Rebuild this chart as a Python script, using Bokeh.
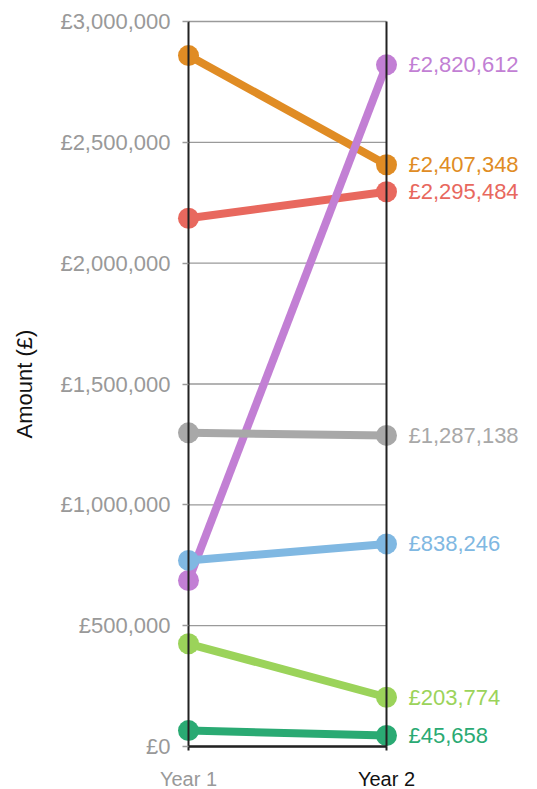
from bokeh.plotting import figure
from bokeh.models import Range1d, LinearAxis, FixedTicker, ColumnDataSource, LabelSet
from bokeh.core.properties import value
from bokeh.embed import file_html
from bokeh.resources import INLINE

# ---- data ----
years = ["Year 1", "Year 2"]
series_colors = ["#E08C24", "#E8685E", "#C27FD4", "#A8A8A8", "#80B8E2", "#9BD35A", "#2AAA73"]
year1_values = [2859000, 2186000, 687000, 1298000, 770000, 425000, 66000]
year2_values = [2407348, 2295484, 2820612, 1287138, 838246, 203774, 45658]
y_ticks = [0, 500000, 1000000, 1500000, 2000000, 2500000, 3000000]
y_tick_labels = ["£0", "£500,000", "£1,000,000", "£1,500,000", "£2,000,000", "£2,500,000", "£3,000,000"]
y_title = "Amount (£)"

# ---- layout ----
W, H = 536, 789
X0, X1 = 188, 386      # pixel x of Year 1 / Year 2 inside the figure
YT, YB = 21, 746       # pixel y of top tick / zero
y_max = y_ticks[-1]
ppx = X1 - X0
ppy = (YB - YT) / y_max
xr = Range1d(-X0 / ppx, (W - X0) / ppx)
yr = Range1d(-(H - YB) / ppy, y_max + YT / ppy)

FONT = "Liberation Sans"
GRAY = "#999999"

p = figure(width=W, height=H, x_range=xr, y_range=yr, output_backend="svg",
           toolbar_location=None, x_axis_location=None, y_axis_location=None,
           min_border=0, outline_line_color=None)
p.grid.visible = False

# grid lines between the two year axes
p.segment(x0=[0] * len(y_ticks), y0=y_ticks, x1=[1] * len(y_ticks), y1=y_ticks,
          line_color="#9a9a9a", line_width=1.3)

# left value axis
yax = LinearAxis(fixed_location=0, ticker=FixedTicker(ticks=y_ticks), bounds=(0, y_max),
                 major_label_overrides=dict(zip(y_ticks, y_tick_labels)),
                 axis_line_color="#222222", axis_line_width=2,
                 major_tick_line_color="#9a9a9a", major_tick_line_width=1.3,
                 major_tick_out=6, major_tick_in=0, minor_tick_out=0, minor_tick_in=0,
                 major_label_text_font=FONT, major_label_text_font_size="22px",
                 major_label_text_color=GRAY, major_label_standoff=12,
                 axis_label=y_title, axis_label_text_font=FONT,
                 axis_label_text_font_style="normal", axis_label_text_font_size="22px",
                 axis_label_text_color="#111111", axis_label_standoff=20)
p.add_layout(yax, "left")

# right vertical line
yax2 = LinearAxis(fixed_location=1, ticker=FixedTicker(ticks=[]), bounds=(0, y_max),
                  axis_line_color="#222222", axis_line_width=2,
                  major_tick_out=0, major_tick_in=0, minor_tick_out=0, minor_tick_in=0,
                  major_label_text_font_size="0px")
p.add_layout(yax2, "right")

# bottom axes with year labels
for i, (yr_name, col) in enumerate(zip(years, [GRAY, "#111111"])):
    xax = LinearAxis(fixed_location=0, ticker=FixedTicker(ticks=[i]), bounds=(0, 1),
                     major_label_overrides={i: yr_name},
                     axis_line_color="#222222", axis_line_width=2,
                     major_tick_line_color="#222222", major_tick_line_width=2,
                     major_tick_out=4, major_tick_in=0, minor_tick_out=0, minor_tick_in=0,
                     major_label_text_font=FONT, major_label_text_font_size="20px",
                     major_label_text_color=col, major_label_standoff=17)
    p.add_layout(xax, "below")

# series
for c, v1, v2 in zip(series_colors, year1_values, year2_values):
    p.line(x=[0, 1], y=[v1, v2], line_color=c, line_width=8)
    p.scatter(x=[0, 1], y=[v1, v2], size=21, fill_color=c, line_color=None)

src = ColumnDataSource(dict(x=[1] * len(year2_values), y=year2_values,
                            text=[f"£{v:,}" for v in year2_values], color=series_colors))
p.add_layout(LabelSet(x="x", y="y", text="text", source=src, x_offset=22,
                      text_baseline="middle", text_align="left", text_color="color",
                      text_font=value(FONT), text_font_size=value("22px")))

open("out.html", "w").write(file_html(p, INLINE))
